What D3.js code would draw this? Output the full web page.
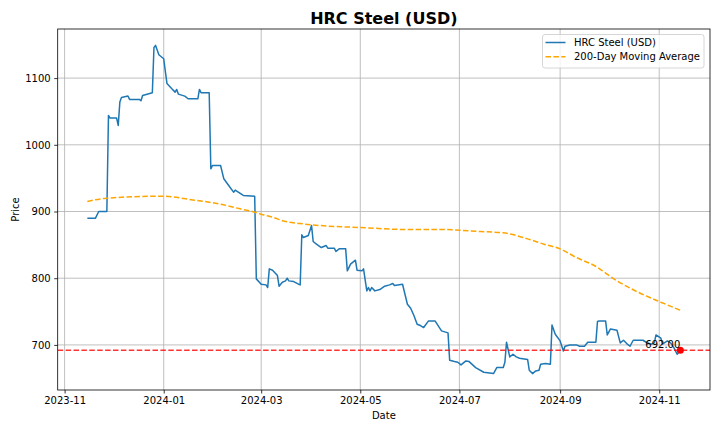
<!DOCTYPE html>
<meta charset="utf-8">
<head>
  <title>HRC Steel (USD)</title>
  <script src="https://d3js.org/d3.v7.min.js"></script>
  <style>
    body { margin: 0; background: #fff; }
    text { font-family: "DejaVu Sans", sans-serif; }
  </style>
</head>
<body>
<div id="chart"></div>
<script>

// HRC steel price
var hrcDates = ["2023-11-15","2023-11-20","2023-11-22","2023-11-27","2023-11-28","2023-11-29","2023-12-03","2023-12-04",
  "2023-12-05","2023-12-06","2023-12-10","2023-12-11","2023-12-17","2023-12-18","2023-12-19","2023-12-25","2023-12-26",
  "2023-12-27","2023-12-29","2024-01-01","2024-01-02","2024-01-03","2024-01-06","2024-01-08","2024-01-09","2024-01-10",
  "2024-01-14","2024-01-16","2024-01-22","2024-01-23","2024-01-24","2024-01-29","2024-01-30","2024-01-31","2024-02-05",
  "2024-02-07","2024-02-10","2024-02-13","2024-02-14","2024-02-19","2024-02-26","2024-02-27","2024-03-01","2024-03-04",
  "2024-03-05","2024-03-06","2024-03-08","2024-03-11","2024-03-12","2024-03-14","2024-03-16","2024-03-17","2024-03-18",
  "2024-03-21","2024-03-24","2024-03-25","2024-03-26","2024-03-27","2024-03-30","2024-04-01","2024-04-02","2024-04-04",
  "2024-04-07","2024-04-10","2024-04-11","2024-04-15","2024-04-16","2024-04-18","2024-04-22","2024-04-23","2024-04-25",
  "2024-04-28","2024-04-29","2024-05-02","2024-05-03","2024-05-05","2024-05-06","2024-05-07","2024-05-08","2024-05-10",
  "2024-05-13","2024-05-16","2024-05-19","2024-05-21","2024-05-22","2024-05-27","2024-05-30","2024-06-01","2024-06-03",
  "2024-06-05","2024-06-07","2024-06-09","2024-06-12","2024-06-16","2024-06-20","2024-06-24","2024-06-25","2024-06-28",
  "2024-06-30","2024-07-02","2024-07-05","2024-07-07","2024-07-11","2024-07-16","2024-07-22","2024-07-24","2024-07-28",
  "2024-07-29","2024-07-30","2024-08-01","2024-08-03","2024-08-05","2024-08-07","2024-08-12","2024-08-13","2024-08-15",
  "2024-08-17","2024-08-19","2024-08-20","2024-08-23","2024-08-26","2024-08-27","2024-08-29","2024-09-01","2024-09-03",
  "2024-09-04","2024-09-07","2024-09-11","2024-09-13","2024-09-16","2024-09-18","2024-09-23","2024-09-24","2024-09-25",
  "2024-09-29","2024-09-30","2024-10-02","2024-10-06","2024-10-08","2024-10-10","2024-10-12","2024-10-14","2024-10-16",
  "2024-10-22","2024-10-24","2024-10-27","2024-10-29","2024-10-30","2024-11-02","2024-11-03","2024-11-06","2024-11-08",
  "2024-11-10","2024-11-12","2024-11-14"];
var hrcValues = [890,890,900,900,1044,1040,1040,1029,
  1064,1071,1073,1068,1068,1066,1074,1078,1146,
  1149,1135,1129,1110,1092,1084,1079,1083,1076,
  1073,1069,1069,1083,1078,1078,964,969,969,
  949,939,929,932,924,923,799,791,790,
  786,814,812,804,788,794,796,800,796,
  795,791,790,865,861,864,879,855,851,
  846,849,845,845,840,844,844,811,821,
  827,812,811,814,781,786,781,786,781,
  783,788,790,792,789,791,761,755,744,
  731,729,726,736,736,721,718,677,675,
  674,670,676,675,666,659,657,666,666,
  674,704,682,686,682,680,678,662,657,
  661,662,671,672,671,730,716,706,691,
  698,700,700,698,698,704,704,735,736,
  736,715,724,722,703,707,702,698,707,
  707,704,701,703,715,710,701,706,703,
  696,686,692];

// 200-day moving average
var maDates = ["2023-11-15","2023-11-27","2023-12-30","2024-01-20","2024-02-05","2024-02-17","2024-02-26","2024-03-01",
  "2024-03-11","2024-03-13","2024-03-25","2024-04-06","2024-05-01","2024-05-30","2024-06-19","2024-07-14","2024-07-28",
  "2024-08-12","2024-08-22","2024-09-01","2024-09-11","2024-09-22","2024-10-06","2024-10-19","2024-11-02","2024-11-14"];
var maValues = [915,920,923,917,911,904,899,896,
  889,887,882,879,876,873,873,870,868,
  859,851,844,831,819,796,779,764,752];

var lastLabel = "692.00";
var xTickDates = ["2023-11-01","2024-01-01","2024-03-01","2024-05-01","2024-07-01","2024-09-01","2024-11-01"];
var yTicks = [700, 800, 900, 1000, 1100];

var W = 720, H = 432;
var margin = {top: 29, right: 10, bottom: 42, left: 57.7},
    width = W - margin.left - margin.right,
    height = H - margin.top - margin.bottom;

var parse = d3.timeParse("%Y-%m-%d");
var fmt = d3.timeFormat("%Y-%m");

var hrc = hrcDates.map(function(d, i) { return {date: parse(d), value: hrcValues[i]}; });
var ma = maDates.map(function(d, i) { return {date: parse(d), value: maValues[i]}; });

var svg = d3.select("#chart").append("svg")
    .attr("width", W).attr("height", H);

// matplotlib-like 5% margins
var xExt = d3.extent(hrc, function(d) { return d.date; });
var span = xExt[1] - xExt[0];
var x = d3.scaleTime()
  .domain([new Date(+xExt[0] - span * 0.05), new Date(+xExt[1] + span * 0.05)])
  .range([0, width]);

var all = hrcValues.concat(maValues);
var yMin = d3.min(all), yMax = d3.max(all), yPad = (yMax - yMin) * 0.05;
var y = d3.scaleLinear()
  .domain([yMin - yPad, yMax + yPad])
  .range([height, 0]);

var g = svg.append("g")
  .attr("transform", "translate(" + margin.left + "," + margin.top + ")");

// grid
g.append("g").selectAll("line").data(xTickDates.map(parse)).enter().append("line")
  .attr("x1", function(d) { return x(d); }).attr("x2", function(d) { return x(d); })
  .attr("y1", 0).attr("y2", height)
  .attr("stroke", "#b0b0b0").attr("stroke-width", 0.8);
g.append("g").selectAll("line").data(yTicks).enter().append("line")
  .attr("x1", 0).attr("x2", width)
  .attr("y1", function(d) { return y(d); }).attr("y2", function(d) { return y(d); })
  .attr("stroke", "#b0b0b0").attr("stroke-width", 0.8);

g.append("clipPath").attr("id", "clip").append("rect")
  .attr("width", width).attr("height", height);

var plot = g.append("g").attr("clip-path", "url(#clip)");

var line = d3.line()
  .x(function(d) { return x(d.date); })
  .y(function(d) { return y(d.value); });

plot.append("path").datum(hrc)
  .attr("d", line)
  .attr("fill", "none").attr("stroke", "#1f77b4").attr("stroke-width", 1.5)
  .attr("stroke-linejoin", "round");

plot.append("path").datum(ma)
  .attr("d", line.curve(d3.curveMonotoneX))
  .attr("fill", "none").attr("stroke", "orange").attr("stroke-width", 1.5)
  .attr("stroke-dasharray", "5.5,2.4");
line.curve(d3.curveLinear);

var last = hrc[hrc.length - 1];

plot.append("line")
  .attr("x1", 0).attr("x2", width)
  .attr("y1", y(last.value)).attr("y2", y(last.value))
  .attr("stroke", "red").attr("stroke-opacity", 0.8).attr("stroke-width", 1.5)
  .attr("stroke-dasharray", "5.5,2.4");

plot.append("circle")
  .attr("cx", x(last.date)).attr("cy", y(last.value)).attr("r", 3.5)
  .attr("fill", "red");

g.append("text")
  .attr("x", x(last.date)).attr("y", y(last.value) - 2.5)
  .attr("text-anchor", "end")
  .attr("font-size", 10)
  .text(lastLabel);

// axes
var xAxis = g.append("g")
  .attr("transform", "translate(0," + height + ")")
  .call(d3.axisBottom(x).tickValues(xTickDates.map(parse)).tickFormat(fmt).tickSize(3.5).tickPadding(3.5));
var yAxis = g.append("g")
  .call(d3.axisLeft(y).tickValues(yTicks).tickFormat(d3.format("d")).tickSize(3.5).tickPadding(3.5));
[xAxis, yAxis].forEach(function(a) {
  a.select(".domain").remove();
  a.selectAll("line").attr("stroke", "#000").attr("stroke-width", 0.8);
  a.selectAll("text").attr("font-size", 10).attr("fill", "#000")
    .attr("font-family", "DejaVu Sans, sans-serif");
});

g.append("rect")
  .attr("width", width).attr("height", height)
  .attr("fill", "none").attr("stroke", "#000").attr("stroke-width", 0.8);

// titles
svg.append("text")
  .attr("x", margin.left + width / 2).attr("y", 23.5)
  .attr("text-anchor", "middle")
  .attr("font-size", 16).attr("font-weight", "bold")
  .text("HRC Steel (USD)");
svg.append("text")
  .attr("x", margin.left + width / 2).attr("y", 419)
  .attr("text-anchor", "middle").attr("font-size", 10)
  .text("Date");
svg.append("text")
  .attr("transform", "translate(19," + (margin.top + height / 2) + ") rotate(-90)")
  .attr("text-anchor", "middle").attr("font-size", 10)
  .text("Price");

// legend
var leg = svg.append("g").attr("transform", "translate(542.5,34.5)");
leg.append("rect")
  .attr("width", 161.5).attr("height", 33.5).attr("rx", 2.5)
  .attr("fill", "#fff").attr("fill-opacity", 0.8)
  .attr("stroke", "#cccccc").attr("stroke-width", 0.8);
var items = [
  {label: "HRC Steel (USD)", color: "#1f77b4", dash: null},
  {label: "200-Day Moving Average", color: "orange", dash: "5.5,2.4"}
];
items.forEach(function(it, i) {
  var yy = 8 + i * 14.3;
  leg.append("line")
    .attr("x1", 3).attr("x2", 23).attr("y1", yy).attr("y2", yy)
    .attr("stroke", it.color).attr("stroke-width", 1.5)
    .attr("stroke-dasharray", it.dash);
  leg.append("text")
    .attr("x", 31.5).attr("y", yy + 3.6)
    .attr("font-size", 10)
    .text(it.label);
});

</script>
</body>
